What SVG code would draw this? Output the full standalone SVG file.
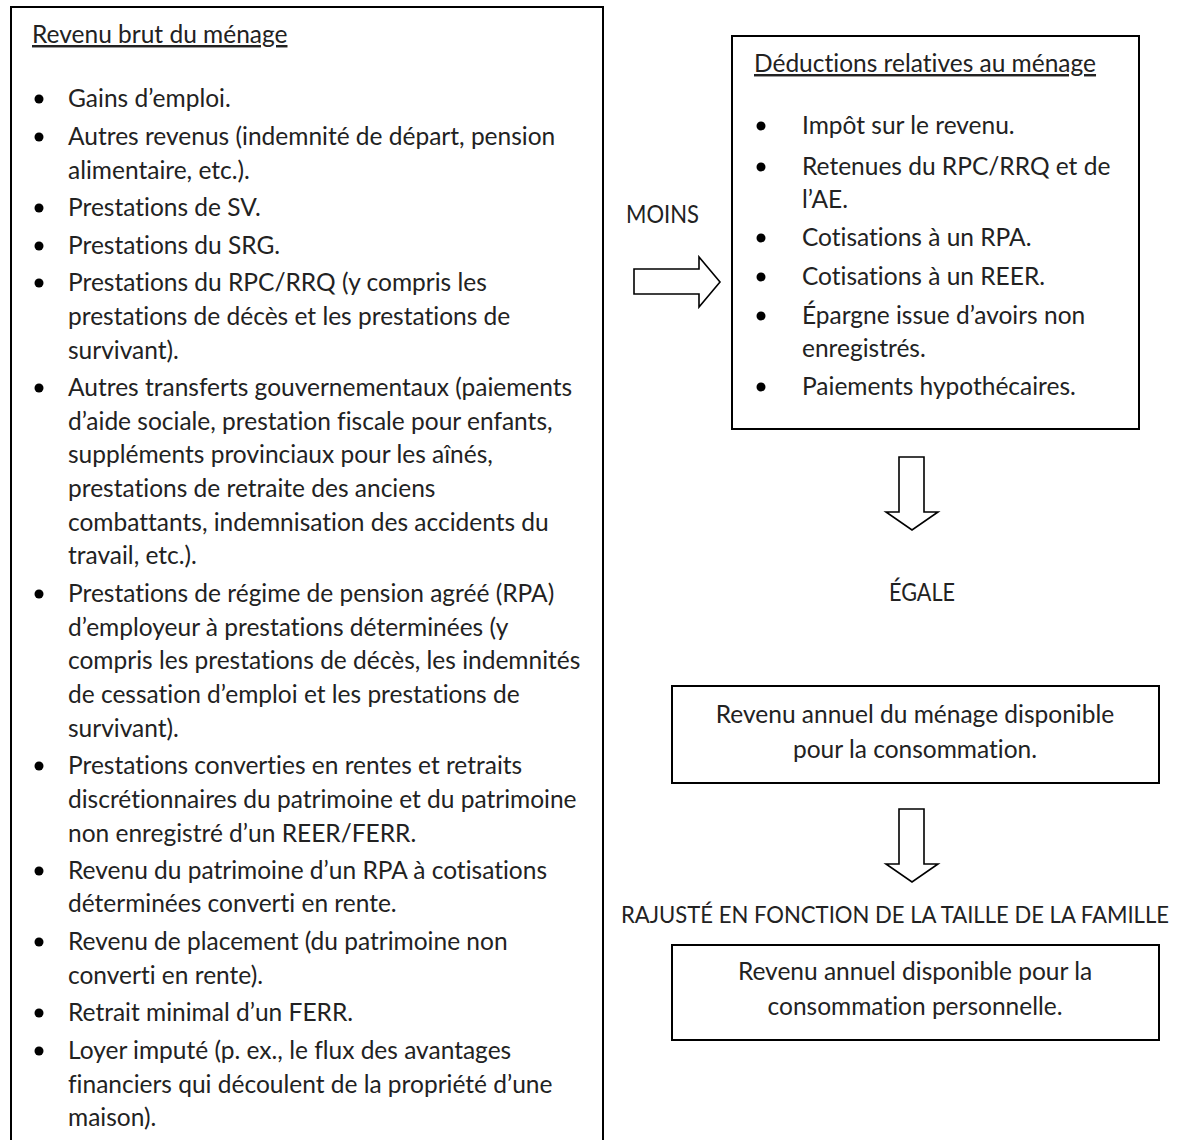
<svg xmlns="http://www.w3.org/2000/svg" width="1180" height="1140" viewBox="0 0 1180 1140">
<style>
  .box { fill: #ffffff; stroke: #000000; stroke-width: 2; }
  .arrow { fill: #ffffff; stroke: #000000; stroke-width: 1.6; stroke-linejoin: miter; }
  text { font-family: "Lato", "Open Sans", "Liberation Sans", sans-serif; font-size: 24.5px; font-weight: 400; fill: #222222; font-variant-ligatures: none; }
  .title { text-decoration: underline; }
  .mid { text-anchor: middle; }
  .caps { font-size: 22.5px; }
  .bullet { fill: #000000; }
</style>
<rect width="1180" height="1140" fill="#ffffff"/>

<g id="gross-income">
  <rect class="box" x="11" y="7" width="592" height="1160"/>
  <text class="title" x="32" y="43">Revenu brut du ménage</text>
  <g class="bullet">
    <circle cx="39" cy="99" r="4.5"/>
    <circle cx="39" cy="137" r="4.5"/>
    <circle cx="39" cy="208" r="4.5"/>
    <circle cx="39" cy="246" r="4.5"/>
    <circle cx="39" cy="283" r="4.5"/>
    <circle cx="39" cy="388" r="4.5"/>
    <circle cx="39" cy="594" r="4.5"/>
    <circle cx="39" cy="766" r="4.5"/>
    <circle cx="39" cy="871" r="4.5"/>
    <circle cx="39" cy="942" r="4.5"/>
    <circle cx="39" cy="1013" r="4.5"/>
    <circle cx="39" cy="1051" r="4.5"/>
  </g>
  <text x="68" y="107">Gains d’emploi.</text>
  <text x="68" y="145">Autres revenus (indemnité de départ, pension</text>
  <text x="68" y="179">alimentaire, etc.).</text>
  <text x="68" y="216">Prestations de SV.</text>
  <text x="68" y="254">Prestations du SRG.</text>
  <text x="68" y="291">Prestations du RPC/RRQ (y compris les</text>
  <text x="68" y="325">prestations de décès et les prestations de</text>
  <text x="68" y="359">survivant).</text>
  <text x="68" y="396">Autres transferts gouvernementaux (paiements</text>
  <text x="68" y="430">d’aide sociale, prestation fiscale pour enfants,</text>
  <text x="68" y="463">suppléments provinciaux pour les aînés,</text>
  <text x="68" y="497">prestations de retraite des anciens</text>
  <text x="68" y="531">combattants, indemnisation des accidents du</text>
  <text x="68" y="564">travail, etc.).</text>
  <text x="68" y="602">Prestations de régime de pension agréé (RPA)</text>
  <text x="68" y="636">d’employeur à prestations déterminées (y</text>
  <text x="68" y="669">compris les prestations de décès, les indemnités</text>
  <text x="68" y="703">de cessation d’emploi et les prestations de</text>
  <text x="68" y="737">survivant).</text>
  <text x="68" y="774">Prestations converties en rentes et retraits</text>
  <text x="68" y="808">discrétionnaires du patrimoine et du patrimoine</text>
  <text x="68" y="842">non enregistré d’un REER/FERR.</text>
  <text x="68" y="879">Revenu du patrimoine d’un RPA à cotisations</text>
  <text x="68" y="912">déterminées converti en rente.</text>
  <text x="68" y="950">Revenu de placement (du patrimoine non</text>
  <text x="68" y="984">converti en rente).</text>
  <text x="68" y="1021">Retrait minimal d’un FERR.</text>
  <text x="68" y="1059">Loyer imputé (p. ex., le flux des avantages</text>
  <text x="68" y="1093">financiers qui découlent de la propriété d’une</text>
  <text x="68" y="1126">maison).</text>
</g>

<g id="deductions">
  <rect class="box" x="732" y="36" width="407" height="393"/>
  <text class="title" x="754" y="72">Déductions relatives au ménage</text>
  <g class="bullet">
    <circle cx="761" cy="126" r="4.5"/>
    <circle cx="761" cy="167" r="4.5"/>
    <circle cx="761" cy="238" r="4.5"/>
    <circle cx="761" cy="277" r="4.5"/>
    <circle cx="761" cy="316" r="4.5"/>
    <circle cx="761" cy="387" r="4.5"/>
  </g>
  <text x="802" y="134">Impôt sur le revenu.</text>
  <text x="802" y="175">Retenues du RPC/RRQ et de</text>
  <text x="802" y="208">l’AE.</text>
  <text x="802" y="246">Cotisations à un RPA.</text>
  <text x="802" y="285">Cotisations à un REER.</text>
  <text x="802" y="324">Épargne issue d’avoirs non</text>
  <text x="802" y="357">enregistrés.</text>
  <text x="802" y="395">Paiements hypothécaires.</text>
</g>

<g id="label-moins">
  <text x="626" y="223" textLength="73" lengthAdjust="spacingAndGlyphs">MOINS</text>
</g>

<g id="label-egale">
  <text x="889" y="601" textLength="66" lengthAdjust="spacingAndGlyphs">ÉGALE</text>
</g>

<g id="household-disposable">
  <rect class="box" x="672" y="686" width="487" height="97"/>
  <text class="mid" x="915" y="723">Revenu annuel du ménage disponible</text>
  <text class="mid" x="915" y="758">pour la consommation.</text>
</g>

<g id="label-rajuste">
  <text class="caps" x="621" y="923" textLength="548" lengthAdjust="spacingAndGlyphs">RAJUSTÉ EN FONCTION DE LA TAILLE DE LA FAMILLE</text>
</g>

<g id="personal-disposable">
  <rect class="box" x="672" y="945" width="487" height="95"/>
  <text class="mid" x="915" y="980">Revenu annuel disponible pour la</text>
  <text class="mid" x="915" y="1015">consommation personnelle.</text>
</g>

<g id="connectors">
  <polygon class="arrow" points="634,269 699,269 699,257 720,282 699,307 699,294 634,294"/>
  <polygon class="arrow" points="899,457 924,457 924,512 938,512 912,530 886,512 899,512"/>
  <polygon class="arrow" points="899,809 924,809 924,864 938,864 912,882 886,864 899,864"/>
</g>
</svg>
